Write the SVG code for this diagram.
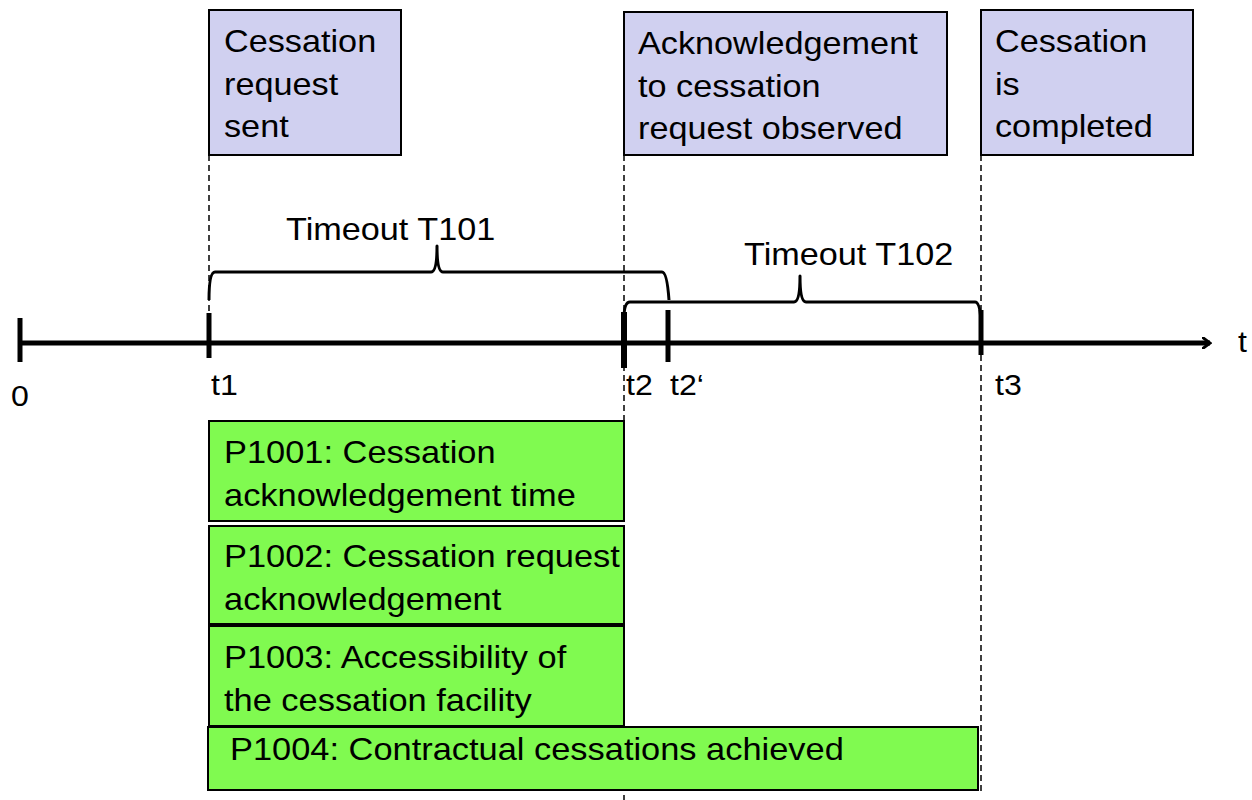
<svg xmlns="http://www.w3.org/2000/svg" width="1252" height="800" viewBox="0 0 1252 800">
<style>
text{font-family:"Liberation Sans",Arial,sans-serif;fill:#000}
.big{font-size:32px}
.lbl{font-size:30px}
.ev{fill:#D0D0F0;stroke:#000;stroke-width:2}
.pm{fill:#80FA50;stroke:#000;stroke-width:2}
.dash{stroke:#000;stroke-width:1.5;stroke-dasharray:6 4;fill:none}
.axis{stroke:#000;stroke-width:5;fill:none}
.tick{stroke:#000;stroke-width:5}
.brace{stroke:#000;stroke-width:3;fill:none;stroke-linejoin:round}
</style>
<defs>
<marker id="arr" markerWidth="10" markerHeight="12" refX="8" refY="6" orient="auto" markerUnits="userSpaceOnUse">
<path d="M0,0 L8,6 L0,12" fill="none" stroke="#000" stroke-width="3"/>
</marker>
</defs>
<g id="connectors">
<path class="dash" d="M209,155 V345"/>
<path class="dash" d="M624,155 V800"/>
<path class="dash" d="M981,155 V792"/>
<path class="axis" d="M18,343 H1210" marker-end="url(#arr)"/>
<path class="tick" d="M20,318 V362"/>
<path class="tick" d="M209,313 V358"/>
<path class="tick" d="M624,312 V368" style="stroke-width:6"/>
<path class="tick" d="M668,310 V362"/>
<path class="tick" d="M981,310 V355"/>
<path class="brace" d="M209,300 Q209,272 215,272 L431,272 Q437,272 437,246 Q437,272 443,272 L662,272 Q667,272 669,300"/>
<path class="brace" d="M624,318 Q624,302 630,302 L794,302 Q800,302 800,276 Q800,302 806,302 L975,302 Q980,302 981,322"/>
</g>
<g id="axis-labels">
<text class="lbl" transform="translate(11 406) scale(1.07 1)">0</text>
<text class="lbl" transform="translate(211 395) scale(1.07 1)">t1</text>
<text class="lbl" transform="translate(626 395) scale(1.07 1)">t2</text>
<text class="lbl" transform="translate(670 395) scale(1.07 1)">t2‘</text>
<text class="lbl" transform="translate(995 395) scale(1.07 1)">t3</text>
<text class="lbl" transform="translate(1238 352) scale(1.07 1)">t</text>
<text class="big" transform="translate(286 240) scale(1.07 1)">Timeout T101</text>
<text class="big" transform="translate(744 265) scale(1.07 1)">Timeout T102</text>
</g>
<g id="ev1">
<rect class="ev" x="209" y="10" width="192" height="145"/>
<text class="big" transform="translate(224 52) scale(1.07 1)">Cessation</text>
<text class="big" transform="translate(224 95) scale(1.07 1)">request</text>
<text class="big" transform="translate(224 137) scale(1.07 1)">sent</text>
</g>
<g id="ev2">
<rect class="ev" x="624" y="12" width="323" height="143"/>
<text class="big" transform="translate(638 54) scale(1.07 1)">Acknowledgement</text>
<text class="big" transform="translate(638 97) scale(1.07 1)">to cessation</text>
<text class="big" transform="translate(638 139) scale(1.07 1)">request observed</text>
</g>
<g id="ev3">
<rect class="ev" x="981" y="10" width="212" height="145"/>
<text class="big" transform="translate(995 52) scale(1.07 1)">Cessation</text>
<text class="big" transform="translate(995 95) scale(1.07 1)">is</text>
<text class="big" transform="translate(995 137) scale(1.07 1)">completed</text>
</g>
<g id="p1001">
<rect class="pm" x="209" y="421" width="415" height="100"/>
<text class="big" transform="translate(224 463) scale(1.075 1)">P1001: Cessation</text>
<text class="big" transform="translate(224 506) scale(1.075 1)">acknowledgement time</text>
</g>
<g id="p1002">
<rect class="pm" x="209" y="526" width="415" height="98"/>
<text class="big" transform="translate(224 567) scale(1.075 1)">P1002: Cessation request</text>
<text class="big" transform="translate(224 610) scale(1.075 1)">acknowledgement</text>
</g>
<g id="p1003">
<rect class="pm" x="209" y="626" width="415" height="100"/>
<text class="big" transform="translate(224 668) scale(1.075 1)">P1003: Accessibility of</text>
<text class="big" transform="translate(224 711) scale(1.075 1)">the cessation facility</text>
</g>
<g id="p1004">
<rect class="pm" x="208" y="727" width="770" height="63"/>
<text class="big" transform="translate(230 760) scale(1.075 1)">P1004: Contractual cessations achieved</text>
</g>
</svg>
